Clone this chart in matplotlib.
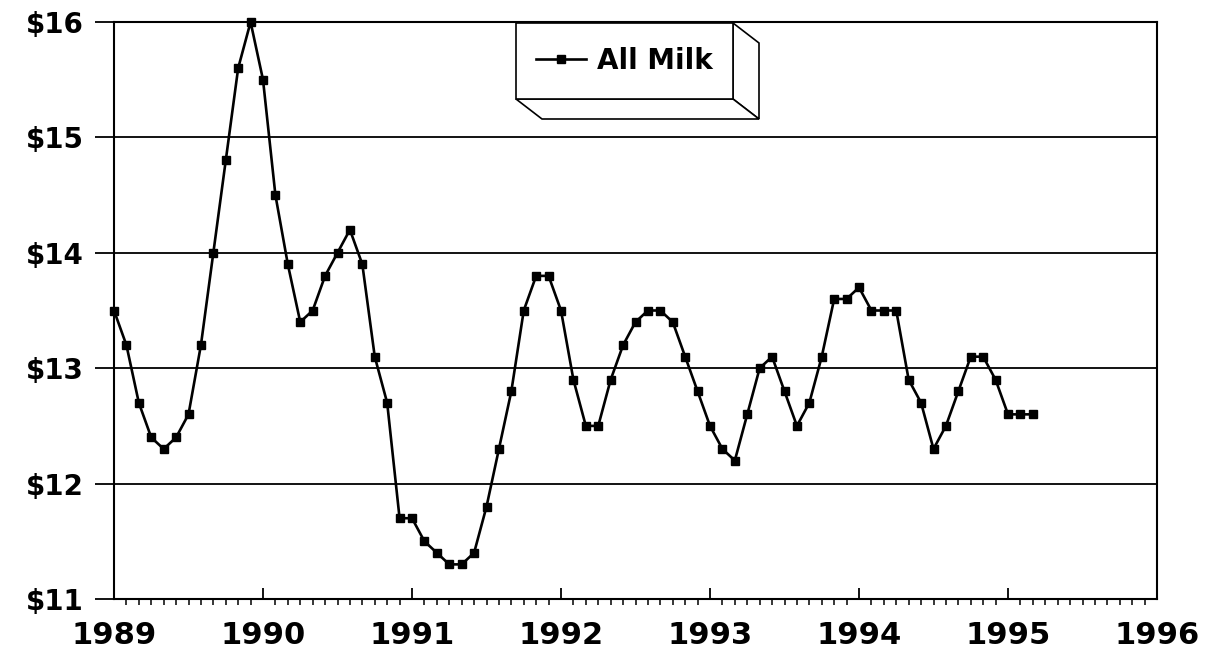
import numpy as np
import matplotlib.pyplot as plt
from matplotlib.patches import Polygon, Rectangle
from matplotlib.ticker import MultipleLocator, FuncFormatter

# monthly All Milk price, Jan 1989 - Mar 1995 ($/cwt)
price_1989 = [13.5, 13.2, 12.7, 12.4, 12.3, 12.4, 12.6, 13.2, 14.0, 14.8, 15.6, 16.0]
price_1990 = [15.5, 14.5, 13.9, 13.4, 13.5, 13.8, 14.0, 14.2, 13.9, 13.1, 12.7, 11.7]
price_1991 = [11.7, 11.5, 11.4, 11.3, 11.3, 11.4, 11.8, 12.3, 12.8, 13.5, 13.8, 13.8]
price_1992 = [13.5, 12.9, 12.5, 12.5, 12.9, 13.2, 13.4, 13.5, 13.5, 13.4, 13.1, 12.8]
price_1993 = [12.5, 12.3, 12.2, 12.6, 13.0, 13.1, 12.8, 12.5, 12.7, 13.1, 13.6, 13.6]
price_1994 = [13.7, 13.5, 13.5, 13.5, 12.9, 12.7, 12.3, 12.5, 12.8, 13.1, 13.1, 12.9]
price_1995 = [12.6, 12.6, 12.6]

start_year = 1989
year_ticks = [1989, 1990, 1991, 1992, 1993, 1994, 1995, 1996]
dollar_ticks = [11, 12, 13, 14, 15, 16]
series_label = 'All Milk'

prices = np.array(price_1989 + price_1990 + price_1991 + price_1992 +
                  price_1993 + price_1994 + price_1995)
t = start_year + np.arange(len(prices)) / 12.0

W, H = 1211, 653
fig = plt.figure(figsize=(W / 100, H / 100), dpi=100)
ax = fig.add_axes([114 / W, 1 - 599 / H, (1157 - 114) / W, (599 - 22) / H])

ax.plot(t, prices, color='black', lw=1.9, marker='s', ms=5.5,
        label=series_label, clip_on=False, zorder=3)

ax.set_xlim(year_ticks[0], year_ticks[-1])
ax.set_ylim(dollar_ticks[0], dollar_ticks[-1])
ax.set_xticks(year_ticks)
ax.xaxis.set_minor_locator(MultipleLocator(1 / 12))
ax.set_yticks(dollar_ticks)
ax.yaxis.set_major_formatter(FuncFormatter(lambda v, p: '$%d' % v))

ax.grid(True, 'major', 'y', color='black', lw=1.3)
for s in ax.spines.values():
    s.set_linewidth(1.5)

ax.tick_params(axis='x', which='major', direction='in', length=8, width=1.3,
               pad=16, labelsize=22)
ax.tick_params(axis='x', which='minor', direction='out', length=4, width=1.1)
ax.tick_params(axis='y', which='major', direction='out', length=14, width=1.3,
               pad=8, labelsize=20)
for lab in ax.get_xticklabels() + ax.get_yticklabels():
    lab.set_fontweight('bold')


# 3-D looking legend box (pixel coords from top-left)
def px(x, y):
    return (x / W, 1 - y / H)


x0, x1, y0, y1, dx, dy = 516, 733, 23, 99, 26, 20
side = Polygon([px(x1, y0), px(x1 + dx, y0 + dy), px(x1 + dx, y1 + dy), px(x1, y1)],
               closed=True, fc='white', ec='black', lw=1.2, transform=fig.transFigure, zorder=5)
bottom = Polygon([px(x0, y1), px(x1, y1), px(x1 + dx, y1 + dy), px(x0 + dx, y1 + dy)],
                 closed=True, fc='white', ec='black', lw=1.2, transform=fig.transFigure, zorder=5)
front = Rectangle(px(x0, y1), (x1 - x0) / W, (y1 - y0) / H, fc='white', ec='black',
                  lw=1.2, transform=fig.transFigure, zorder=6)
for p in (side, bottom, front):
    fig.patches.append(p)

leg = fig.legend(loc='center', bbox_to_anchor=px((x0 + x1) / 2, (y0 + y1) / 2),
                 frameon=False, handlelength=1.8, handletextpad=0.4,
                 prop={'weight': 'bold', 'size': 20})
leg.set_zorder(7)

fig.savefig('out.png', dpi=100)
